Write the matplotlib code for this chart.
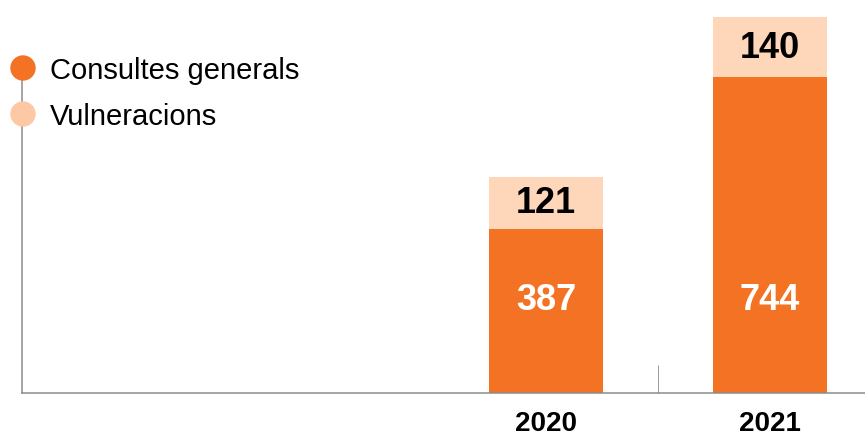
import matplotlib.pyplot as plt
import matplotlib.transforms as mtransforms

years = ["2020", "2021"]
consultes = [387, 744]
vulneracions = [121, 140]
series_names = ["Consultes generals", "Vulneracions"]

ORANGE = "#F37224"
LIGHT = "#FED6BA"
LEGEND_LIGHT = "#FDC8A4"
GRAY = "#8C8C8C"

plt.rcParams["font.family"] = ["Liberation Sans", "DejaVu Sans"]

fig = plt.figure(figsize=(8.65, 4.35), dpi=100)
ax = fig.add_axes([22 / 865, 41 / 435, 843 / 865, 394 / 435])

x = list(range(len(years)))
width = 0.51
ax.bar(x, consultes, width, color=ORANGE, zorder=2)
ax.bar(x, vulneracions, width, bottom=consultes, color=LIGHT, zorder=2)

ax.set_xlim(-2.34, 1.424)
ax.set_ylim(0, 927)

# value labels
trans = mtransforms.blended_transform_factory(ax.transData, ax.transAxes)
for xi, c, v in zip(x, consultes, vulneracions):
    ax.text(xi, 93 / 394, str(c), transform=trans, ha="center", va="center",
            color="white", fontsize=26, fontweight="bold", zorder=3)
    ax.text(xi, c + v / 2, str(v), ha="center", va="center",
            color="black", fontsize=26, fontweight="bold", zorder=3)

# axes styling
for side in ["top", "right"]:
    ax.spines[side].set_visible(False)
ax.spines["left"].set_color(GRAY)
ax.spines["left"].set_linewidth(1.1)
ax.spines["left"].set_bounds(0, 762)
ax.spines["bottom"].set_color(GRAY)
ax.spines["bottom"].set_linewidth(1.1)
ax.set_yticks([])
ax.set_xticks(x)
ax.set_xticklabels(years, fontsize=20, fontweight="bold")
ax.tick_params(axis="x", length=0, pad=12)
ax.set_xticks([0.5], minor=True)
ax.tick_params(axis="x", which="minor", length=20, width=0.6, color=GRAY,
               direction="in")

# legend
leg_y = [1 - 69 / 435, 1 - 115 / 435]
for yy, col, name in zip(leg_y, [ORANGE, LEGEND_LIGHT], series_names):
    fig.patches.append(plt.Circle((23, yy * 435), 12,
                                  transform=None, color=col, zorder=5))
    fig.text(50 / 865, yy - 2 / 435, name, fontsize=21, va="center",
             ha="left", color="black")

fig.savefig("out.png", dpi=100)
